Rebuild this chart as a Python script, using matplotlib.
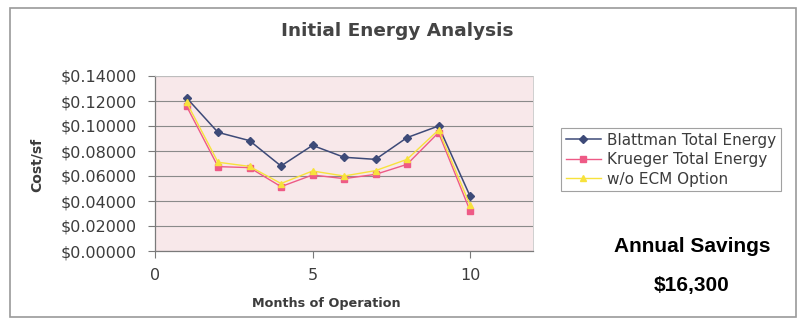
import matplotlib
matplotlib.use("Agg")
import matplotlib.pyplot as plt
from matplotlib.patches import Rectangle
from matplotlib.ticker import FuncFormatter

months = [1, 2, 3, 4, 5, 6, 7, 8, 9, 10]
blattman = [0.1226, 0.0949, 0.0883, 0.0680, 0.0845, 0.0750, 0.0733, 0.0907, 0.1000, 0.0440]
krueger = [0.1160, 0.0675, 0.0667, 0.0515, 0.0608, 0.0579, 0.0613, 0.0693, 0.0947, 0.0323]
wo_ecm = [0.1190, 0.0710, 0.0677, 0.0540, 0.0640, 0.0600, 0.0643, 0.0733, 0.0968, 0.0368]
series_names = ["Blattman Total Energy", "Krueger Total Energy", "w/o ECM Option"]
x_ticks = [0, 5, 10]
y_ticks = [0.0, 0.02, 0.04, 0.06, 0.08, 0.10, 0.12, 0.14]

plt.rcParams["font.family"] = ["DejaVu Sans"]
TXT = "#3c3c3c"

fig = plt.figure(figsize=(7.98, 3.2), dpi=100)
fig.patch.set_facecolor("white")

# outer chart frame
fig.patches.append(Rectangle((10 / 798, 1 - 317 / 320), 786 / 798, 309 / 320,
                             transform=fig.transFigure, fill=False,
                             edgecolor="#9a9a9a", linewidth=1.2))

ax = fig.add_axes([155 / 798, (320 - 251) / 320, (533 - 155) / 798, (251 - 76) / 320])
ax.set_facecolor("#f8e8ea")

ax.plot(months, blattman, color="#3d4a78", marker="D", markersize=4.5, linewidth=1.1,
        label=series_names[0], zorder=3)
ax.plot(months, krueger, color="#ee5a86", marker="s", markersize=4.5, linewidth=1.0,
        label=series_names[1], zorder=3)
ax.plot(months, wo_ecm, color="#f7e23c", marker="^", markersize=5, linewidth=1.0,
        label=series_names[2], zorder=4)

ax.set_xlim(0, 12)
ax.set_ylim(0, 0.14)
ax.set_xticks(x_ticks)
ax.set_yticks(y_ticks)
ax.yaxis.set_major_formatter(FuncFormatter(lambda v, p: f"${v:.5f}"))
ax.grid(axis="y", color="#8a8a8a", linewidth=0.8)
ax.set_axisbelow(True)
for s in ["top", "right"]:
    ax.spines[s].set_color("#c8c8c8")
    ax.spines[s].set_linewidth(0.6)
for s in ["left", "bottom"]:
    ax.spines[s].set_color("#7a7a7a")
    ax.spines[s].set_linewidth(0.9)
ax.tick_params(axis="both", colors="#7a7a7a", labelcolor=TXT, labelsize=11.5,
               length=5, width=0.8)
ax.tick_params(axis="y", pad=8)
ax.tick_params(axis="x", pad=7)

ax.set_xlabel("Months of Operation", fontsize=9.2, fontweight="bold", color=TXT)
ax.xaxis.set_label_coords((326 - 155) / 378, (251 - 297) / 175)
ax.set_ylabel("Cost/sf", fontsize=10, fontweight="bold", color=TXT)
ax.yaxis.set_label_coords((44 - 155) / 378, (251 - 165) / 175)

fig.text(397 / 798, 1 - 31 / 320, "Initial Energy Analysis", ha="center", va="center",
         fontsize=13.3, fontweight="bold", color="#444444")

leg = fig.legend(loc="upper left", bbox_to_anchor=(561 / 798, 1 - 128 / 320),
                 borderaxespad=0, frameon=True, fontsize=11, handlelength=2.3,
                 borderpad=0.3, labelspacing=0.3, handletextpad=0.4, fancybox=False)
leg.get_frame().set_edgecolor("#8a8a8a")
leg.get_frame().set_linewidth(0.8)
for t in leg.get_texts():
    t.set_color(TXT)

fig.text(692 / 798, 1 - 247 / 320, "Annual Savings", ha="center", va="center",
         fontsize=15, fontweight="bold", color="black", family="Liberation Sans")
fig.text(692 / 798, 1 - 285 / 320, "$16,300", ha="center", va="center",
         fontsize=15, fontweight="bold", color="black", family="Liberation Sans")

fig.savefig("out.png", dpi=100)
